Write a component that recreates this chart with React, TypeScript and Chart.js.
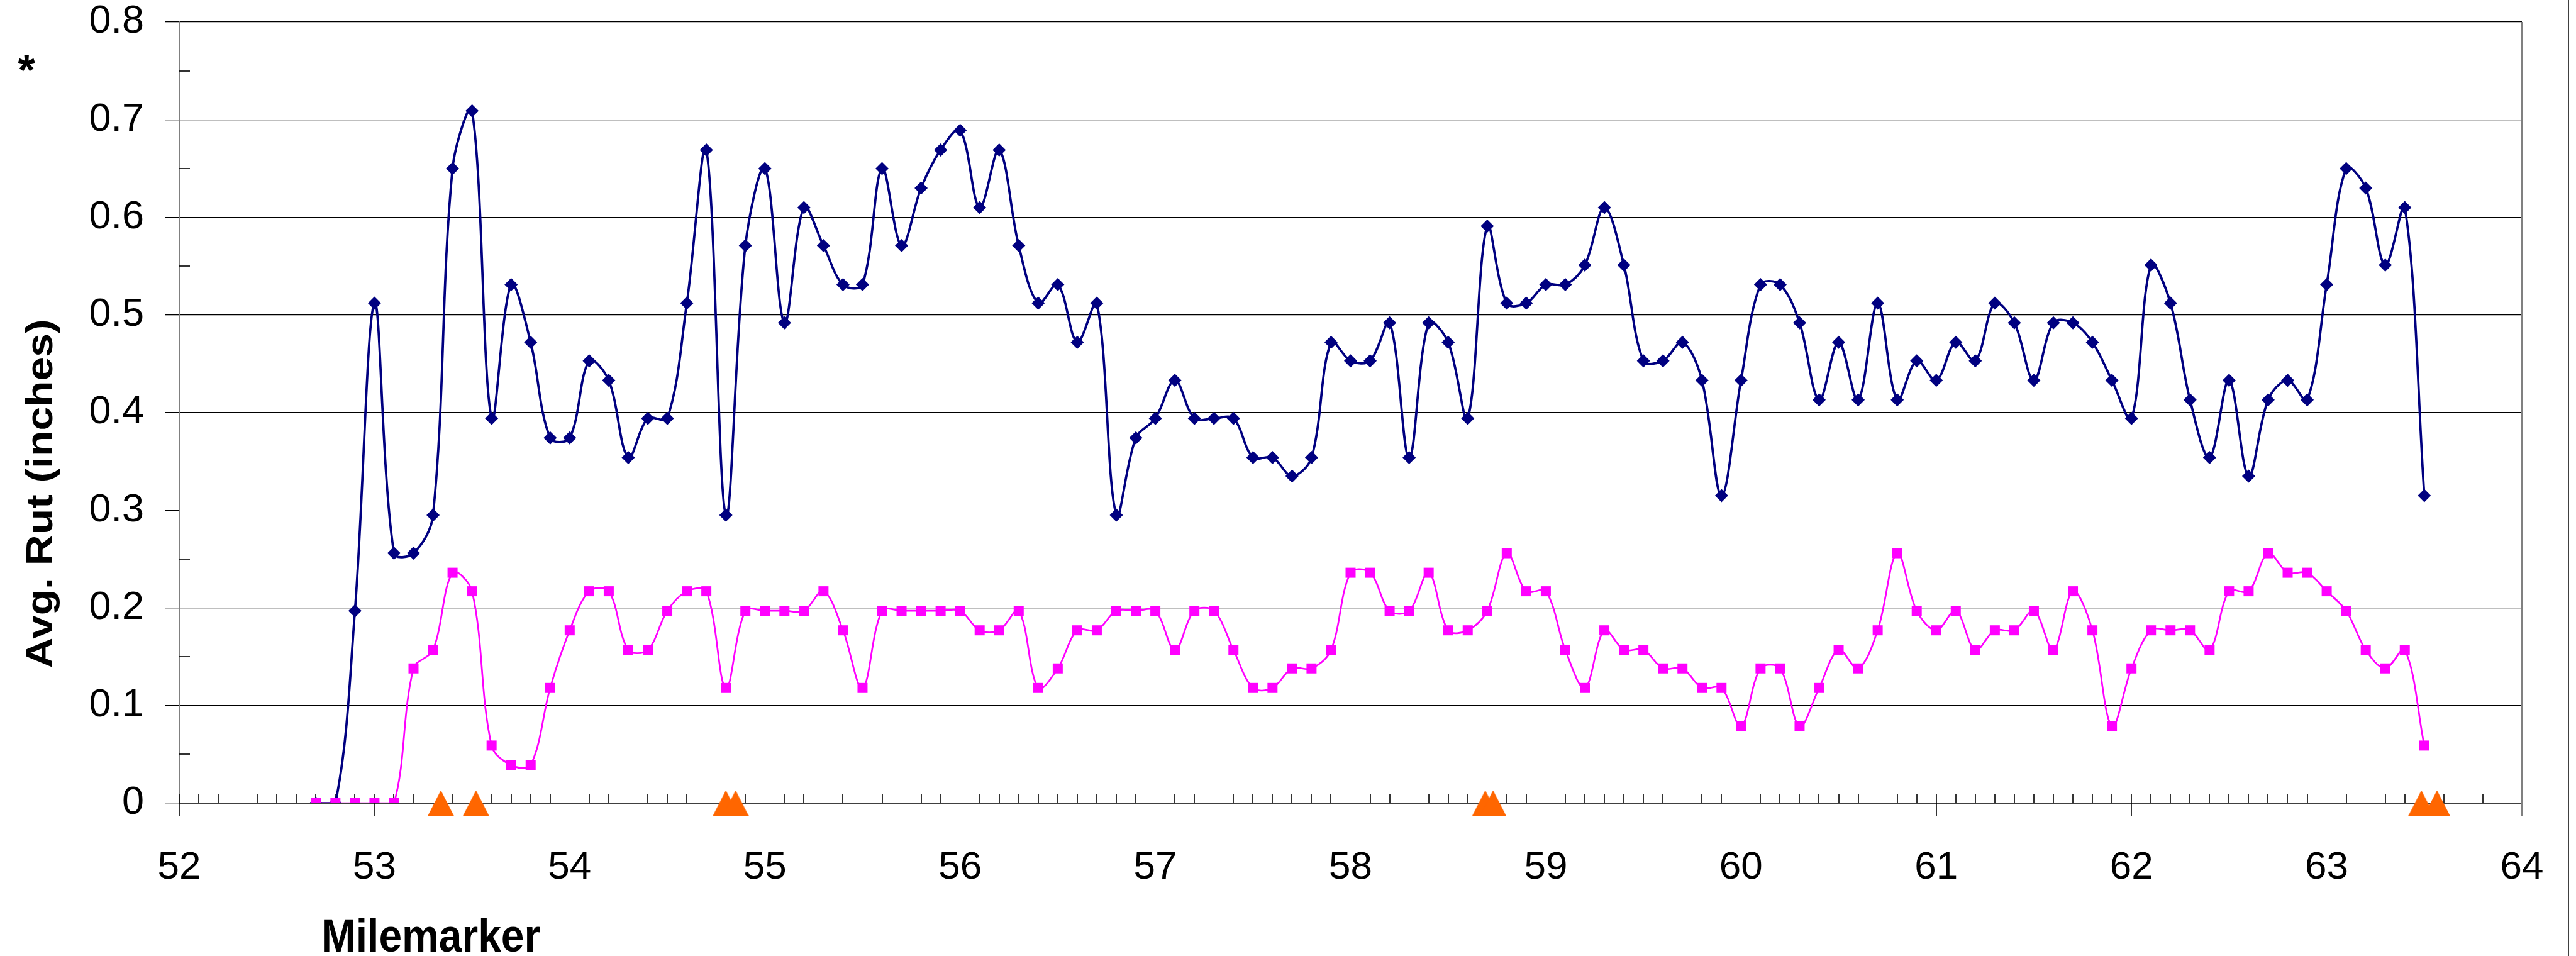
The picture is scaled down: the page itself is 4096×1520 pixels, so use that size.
import React, { useEffect, useRef } from 'react';
import { Chart, registerables } from 'chart.js';

Chart.register(...registerables);

// ---------------- data ----------------
const miles = [
  52.7, 52.8, 52.9, 53.0, 53.1, 53.2, 53.3, 53.4, 53.5, 53.6,
  53.7, 53.8, 53.9, 54.0, 54.1, 54.2, 54.3, 54.4, 54.5, 54.6,
  54.7, 54.8, 54.9, 55.0, 55.1, 55.2, 55.3, 55.4, 55.5, 55.6,
  55.7, 55.8, 55.9, 56.0, 56.1, 56.2, 56.3, 56.4, 56.5, 56.6,
  56.7, 56.8, 56.9, 57.0, 57.1, 57.2, 57.3, 57.4, 57.5, 57.6,
  57.7, 57.8, 57.9, 58.0, 58.1, 58.2, 58.3, 58.4, 58.5, 58.6,
  58.7, 58.8, 58.9, 59.0, 59.1, 59.2, 59.3, 59.4, 59.5, 59.6,
  59.7, 59.8, 59.9, 60.0, 60.1, 60.2, 60.3, 60.4, 60.5, 60.6,
  60.7, 60.8, 60.9, 61.0, 61.1, 61.2, 61.3, 61.4, 61.5, 61.6,
  61.7, 61.8, 61.9, 62.0, 62.1, 62.2, 62.3, 62.4, 62.5, 62.6,
  62.7, 62.8, 62.9, 63.0, 63.1, 63.2, 63.3, 63.4, 63.5,
];

const rutBlue = [
  0, 0, 0.197, 0.512, 0.256, 0.256, 0.295, 0.650, 0.709, 0.394,
  0.531, 0.472, 0.374, 0.374, 0.453, 0.433, 0.354, 0.394, 0.394, 0.512,
  0.669, 0.295, 0.571, 0.650, 0.492, 0.610, 0.571, 0.531, 0.531, 0.650,
  0.571, 0.630, 0.669, 0.689, 0.610, 0.669, 0.571, 0.512, 0.531, 0.472,
  0.512, 0.295, 0.374, 0.394, 0.433, 0.394, 0.394, 0.394, 0.354, 0.354,
  0.335, 0.354, 0.472, 0.453, 0.453, 0.492, 0.354, 0.492, 0.472, 0.394,
  0.591, 0.512, 0.512, 0.531, 0.531, 0.551, 0.610, 0.551, 0.453, 0.453,
  0.472, 0.433, 0.315, 0.433, 0.531, 0.531, 0.492, 0.413, 0.472, 0.413,
  0.512, 0.413, 0.453, 0.433, 0.472, 0.453, 0.512, 0.492, 0.433, 0.492,
  0.492, 0.472, 0.433, 0.394, 0.551, 0.512, 0.413, 0.354, 0.433, 0.335,
  0.413, 0.433, 0.413, 0.531, 0.650, 0.630, 0.551, 0.610, 0.315,
];

const rutPink = [
  0, 0, 0, 0, 0, 0.138, 0.157, 0.236, 0.217, 0.059,
  0.039, 0.039, 0.118, 0.177, 0.217, 0.217, 0.157, 0.157, 0.197, 0.217,
  0.217, 0.118, 0.197, 0.197, 0.197, 0.197, 0.217, 0.177, 0.118, 0.197,
  0.197, 0.197, 0.197, 0.197, 0.177, 0.177, 0.197, 0.118, 0.138, 0.177,
  0.177, 0.197, 0.197, 0.197, 0.157, 0.197, 0.197, 0.157, 0.118, 0.118,
  0.138, 0.138, 0.157, 0.236, 0.236, 0.197, 0.197, 0.236, 0.177, 0.177,
  0.197, 0.256, 0.217, 0.217, 0.157, 0.118, 0.177, 0.157, 0.157, 0.138,
  0.138, 0.118, 0.118, 0.079, 0.138, 0.138, 0.079, 0.118, 0.157, 0.138,
  0.177, 0.256, 0.197, 0.177, 0.197, 0.157, 0.177, 0.177, 0.197, 0.157,
  0.217, 0.177, 0.079, 0.138, 0.177, 0.177, 0.177, 0.157, 0.217, 0.217,
  0.256, 0.236, 0.236, 0.217, 0.197, 0.157, 0.138, 0.157, 0.059,
];

const markerMiles = [53.34, 53.52, 54.8, 54.85, 58.69, 58.73, 63.485, 63.565];
const markerValues = [0, 0, 0, 0, 0, 0, 0, 0];

const minorTicksX = [
  52.1, 52.2, 52.4, 52.5, 52.6, 52.7, 52.8, 52.9, 53.1, 53.2, 53.4, 53.6,
  53.7, 53.8, 53.9, 54.1, 54.2, 54.4, 54.5, 54.6, 54.9, 55.1, 55.2, 55.4,
  55.6, 55.8, 55.9, 56.1, 56.2, 56.3, 56.4, 56.5, 56.6, 56.7, 56.8, 56.9,
  57.1, 57.2, 57.4, 57.5, 57.6, 57.7, 57.8, 57.9, 58.1, 58.2, 58.4, 58.5,
  58.6, 58.8, 58.9, 59.1, 59.2, 59.3, 59.4, 59.5, 59.6, 59.8, 59.9, 60.1,
  60.2, 60.3, 60.4, 60.5, 60.6, 60.8, 60.9, 61.1, 61.2, 61.3, 61.4, 61.5,
  61.6, 61.7, 61.8, 61.9, 62.1, 62.2, 62.3, 62.4, 62.5, 62.6, 62.7, 62.8,
  62.9, 63.1, 63.3, 63.4, 63.6, 63.8,
];
const majorTicksX = [52, 53, 61, 62, 64];
const minorTicksY = [0.05, 0.15, 0.25, 0.55, 0.65, 0.75];
const hiddenGridY = [0.3];

const X_MIN = 52;
const X_MAX = 64;
const Y_MIN = 0;
const Y_MAX = 0.8;

const yTitle = 'Avg. Rut (inches)';
const xTitle = 'Milemarker';
const starNote = '*';

const FONT = "'Liberation Sans', Arial, Helvetica, sans-serif";

function makeTriangle(): HTMLCanvasElement {
  const c = document.createElement('canvas');
  c.width = 42;
  c.height = 41;
  const g = c.getContext('2d')!;
  g.fillStyle = '#FF6600';
  g.beginPath();
  g.moveTo(21, 0);
  g.lineTo(42, 41);
  g.lineTo(0, 41);
  g.closePath();
  g.fill();
  return c;
}

const decorPlugin = {
  id: 'decor',
  beforeDatasetsDraw(chart: any) {
    const { ctx, chartArea, scales } = chart;
    const x = scales.x;
    const y = scales.y;
    const y0 = y.getPixelForValue(0);
    ctx.save();
    ctx.strokeStyle = '#000';
    ctx.lineWidth = 1.6;
    minorTicksX.forEach((m) => {
      const px = Math.round(x.getPixelForValue(m));
      ctx.beginPath();
      ctx.moveTo(px, y0);
      ctx.lineTo(px, y0 - 15);
      ctx.stroke();
    });
    majorTicksX.forEach((m) => {
      if (m === X_MAX) return;
      const px = Math.round(x.getPixelForValue(m));
      ctx.beginPath();
      ctx.moveTo(px, y0 - 15);
      ctx.lineTo(px, y0 + 21);
      ctx.stroke();
    });
    minorTicksY.forEach((v) => {
      const py = Math.round(y.getPixelForValue(v));
      ctx.beginPath();
      ctx.moveTo(chartArea.left, py);
      ctx.lineTo(chartArea.left + 17, py);
      ctx.stroke();
    });
    // right plot border
    ctx.strokeStyle = '#808080';
    ctx.lineWidth = 2.2;
    const rx = Math.round(x.getPixelForValue(X_MAX));
    ctx.beginPath();
    ctx.moveTo(rx, chartArea.top);
    ctx.lineTo(rx, y0 + 21);
    ctx.stroke();
    ctx.restore();
  },
  afterDraw(chart: any) {
    const { ctx, width, height } = chart;
    ctx.save();
    // outer frame edge on the right
    ctx.strokeStyle = '#000';
    ctx.lineWidth = 1.5;
    ctx.beginPath();
    ctx.moveTo(width - 12, 0);
    ctx.lineTo(width - 12, height);
    ctx.stroke();

    ctx.fillStyle = '#000';
    // star note
    ctx.font = `bold 70px ${FONT}`;
    ctx.textAlign = 'center';
    ctx.textBaseline = 'alphabetic';
    ctx.fillText(starNote, 42, 136);

    // y title
    ctx.save();
    ctx.translate(66, 785);
    ctx.rotate(-Math.PI / 2);
    ctx.scale(1.13, 1);
    ctx.font = `bold 60px ${FONT}`;
    ctx.textAlign = 'center';
    ctx.textBaseline = 'middle';
    ctx.fillText(yTitle, 0, 0);
    ctx.restore();

    // x title
    ctx.save();
    ctx.translate(685, 1513);
    ctx.scale(1, 1.13);
    ctx.font = `bold 66px ${FONT}`;
    ctx.textAlign = 'center';
    ctx.textBaseline = 'alphabetic';
    ctx.fillText(xTitle, 0, 0);
    ctx.restore();
    ctx.restore();
  },
};

export default function App() {
  const ref = useRef<HTMLCanvasElement | null>(null);

  useEffect(() => {
    document.body.style.margin = '0';
    const canvas = ref.current;
    if (!canvas) return;
    const tri = makeTriangle();

    const blueData = miles.map((m, i) => ({ x: m, y: rutBlue[i] }));
    const pinkData = miles.map((m, i) => ({ x: m, y: rutPink[i] }));
    const triData = markerMiles.map((m, i) => ({ x: m, y: markerValues[i] }));

    const chart = new Chart(canvas, {
      type: 'line',
      data: {
        datasets: [
          {
            label: 'Markers',
            data: triData,
            showLine: false,
            pointStyle: tri as any,
            pointRadius: 20,
            borderColor: '#FF6600',
            backgroundColor: '#FF6600',
            clip: false as any,
            order: 0,
          },
          {
            label: 'Series 2',
            data: pinkData,
            borderColor: '#FF00FF',
            borderWidth: 2.7,
            tension: 0.35,
            pointStyle: 'rect',
            pointRadius: 11.3,
            pointBorderWidth: 0,
            pointBackgroundColor: '#FF00FF',
            pointBorderColor: '#FF00FF',
            order: 1,
          },
          {
            label: 'Series 1',
            data: blueData,
            borderColor: '#000080',
            borderWidth: 3.7,
            tension: 0.35,
            pointStyle: 'rectRot',
            pointRadius: 10.5,
            pointBorderWidth: 0,
            pointBackgroundColor: '#000080',
            pointBorderColor: '#000080',
            order: 2,
          },
        ],
      },
      options: {
        animation: false,
        responsive: false,
        devicePixelRatio: 1,
        events: [],
        layout: { padding: { left: 0, top: 35, right: 86, bottom: 0 } },
        plugins: {
          legend: { display: false },
          tooltip: { enabled: false },
          title: { display: false },
        },
        scales: {
          x: {
            type: 'linear',
            min: X_MIN,
            max: X_MAX,
            grid: { display: false, drawTicks: false },
            border: { display: true, color: '#404040', width: 2 },
            ticks: {
              stepSize: 1,
              autoSkip: false,
              maxRotation: 0,
              color: '#000',
              padding: 66,
              font: { family: FONT, size: 62 },
              callback: (v: any) => String(v),
            },
            afterFit: (s: any) => {
              s.height = 243;
              s.paddingLeft = 0;
              s.paddingRight = 0;
              s.paddingTop = 0;
              s.paddingBottom = 0;
            },
          },
          y: {
            type: 'linear',
            min: Y_MIN,
            max: Y_MAX,
            grid: {
              color: (c: any) =>
                c.tick && hiddenGridY.some((h) => Math.abs(c.tick.value - h) < 1e-6)
                  ? 'rgba(0,0,0,0)'
                  : '#000',
              tickColor: '#000',
              lineWidth: 1.3,
              drawTicks: true,
              tickLength: 22,
            },
            border: { display: true, color: '#808080', width: 3 },
            ticks: {
              stepSize: 0.1,
              color: '#000',
              padding: 34,
              font: { family: FONT, size: 63 },
              callback: (v: any) => (Math.abs(v) < 1e-9 ? '0' : Number(v).toFixed(1)),
            },
            afterFit: (s: any) => {
              s.width = 285;
              s.paddingLeft = 0;
              s.paddingRight = 0;
              s.paddingTop = 0;
              s.paddingBottom = 0;
            },
          },
        },
      },
      plugins: [decorPlugin],
    });

    return () => chart.destroy();
  }, []);

  return (
    <div style={{ position: 'absolute', left: 0, top: 0, width: 4096, height: 1520, background: '#fff' }}>
      <canvas ref={ref} width={4096} height={1520} style={{ display: 'block' }} />
    </div>
  );
}
